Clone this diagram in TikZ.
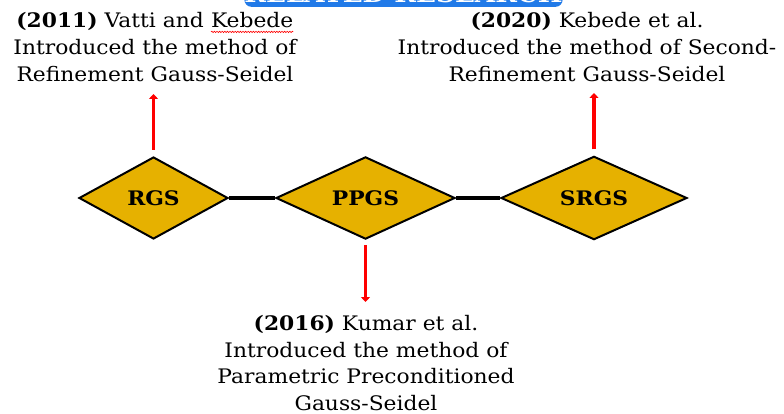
\documentclass[tikz,border=0pt]{standalone}
\usepackage{fontspec}
\setmainfont{DejaVu Serif}[FakeStretch=1.09]
\usetikzlibrary{shapes.geometric,arrows.meta,decorations.pathmorphing}
\definecolor{gold}{RGB}{230,177,0}
\definecolor{banner}{RGB}{33,122,232}
\definecolor{arrred}{RGB}{255,0,0}
\newcommand\spellwave[1]{\tikz[baseline=(w.base),x=1pt,y=1pt]{%
  \node[inner sep=0pt,outer sep=0pt,anchor=base] (w) at (0,0) {#1};
  \draw[red,line width=0.6pt,decorate,decoration={snake,amplitude=0.7pt,segment length=2.6pt}]
    ([yshift=-4pt]w.base west) -- ([yshift=-4pt]w.base east);}}
\tikzset{
  method/.style={diamond, draw=black, line width=2pt, fill=gold, inner sep=0pt,
    font=\fontsize{20}{22}\selectfont\bfseries},
  link/.style={line width=4pt, black},
  pointer/.style={line width=3.5pt, arrred, -{Triangle[length=5pt,width=9pt]}},
  note/.style={align=center, inner sep=0pt, anchor=north,
    font=\fontsize{20}{26.7}\selectfont},
}
\begin{document}
\begin{tikzpicture}[x=1pt,y=-1pt]
\useasboundingbox (0,0) rectangle (784,414);
\clip (0,0) rectangle (784,414);
% banner (cut off at the top)
\node[fill=banner, rounded corners=7pt, minimum width=317pt, minimum height=40pt, anchor=south, inner sep=0pt,
  text=white, font=\fontsize{24}{24}\selectfont\bfseries, text depth=0pt] (ban) at (403.5,7) {\raisebox{-14pt}{RELATED RESEARCH}};
% diamonds
\node[method, minimum width=149pt, minimum height=82pt] (rgs) at (153.5,198) {RGS};
\node[method, minimum width=179pt, minimum height=81pt] (ppgs) at (365.5,198) {PPGS};
\node[method, minimum width=186pt, minimum height=82pt] (srgs) at (594,198) {SRGS};
\draw[link] (rgs.east) -- (ppgs.west);
\draw[link] (ppgs.east) -- (srgs.west);
% notes
\node[note] (n1) at (155,12.5) {\textbf{(2011)} Vatti and \spellwave{Kebede}\\Introduced the method of\\Refinement Gauss-Seidel};
\node[note] (n2) at (587,12.5) {\textbf{(2020)} Kebede et al.\\Introduced the method of Second-\\Refinement Gauss-Seidel};
\node[note] (n3) at (366,315) {\textbf{(2016)} Kumar et al.\\Introduced the method of\\Parametric Preconditioned\\Gauss-Seidel};
% pointers
\coordinate (t1) at (153.5,94);
\coordinate (t2) at (594,93);
\coordinate (t3) at (365.5,302);
\draw[pointer] ([yshift=6pt]rgs.north) -- (t1);
\draw[pointer] ([yshift=6pt]srgs.north) -- (t2);
\draw[pointer] ([yshift=-5pt]ppgs.south) -- (t3);
\end{tikzpicture}
\end{document}
